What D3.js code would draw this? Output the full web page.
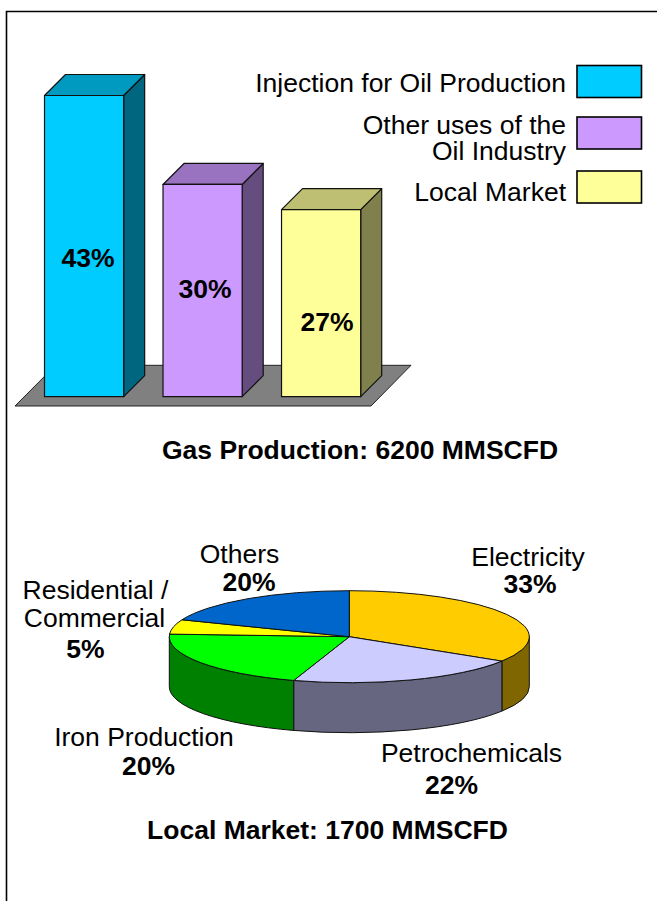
<!DOCTYPE html>
<html lang="en">
<head>
  <meta charset="UTF-8">
  <title>Gas Production and Local Market</title>
  <script src="https://d3js.org/d3.v7.min.js"></script>
  <style>
    html, body { margin: 0; padding: 0; background: #fff; }
    svg { display: block; }
    text { font-family: "Liberation Sans", Arial, sans-serif; fill: #000; }
    .lbl { font-size: 26.5px; }
    .bold { font-size: 26.5px; font-weight: bold; }
  </style>
</head>
<body>
  <svg width="657" height="901"></svg>
  <script>
    // bar chart: heights, labels as printed
    const barCategories = ["Injection for Oil Production", "Other uses of the Oil Industry", "Local Market"];
    const barHeights = [43, 30.3, 26.7];
    const barLabels = ["43%", "30%", "27%"];
    const barColors = ["#00ccff", "#cc99ff", "#ffff99"];
    const barLabelX = [88, 205, 327];
    const barLabelY = [267, 298, 331];

    // pie: slice sizes, labels as printed
    const pieCategories = ["Electricity", "Petrochemicals", "Iron Production", "Residential / Commercial", "Others"];
    const pieShares = [33.9, 21.1, 20.9, 5.1, 19.0];
    const pieColors = ["#ffcc00", "#ccccff", "#00ff00", "#ffff00", "#0066cc"];

    const svg = d3.select("svg");
    const shade = (c, k) => {
      const r = d3.rgb(c);
      return d3.rgb(r.r * k, r.g * k, r.b * k).formatHex();
    };

    // frame, only top and left
    svg.append("path")
       .attr("d", "M6.5,901V11.5H657")
       .attr("fill", "none")
       .attr("stroke", "#000")
       .attr("stroke-width", 1.6);

    const x = d3.scaleBand()
                .domain(barCategories)
                .range([44.5, 360.7])
                .paddingInner(0.332);
    const y = d3.scaleLinear()
                .domain([0, 43])
                .range([396.7, 95.5]);
    const depth = 21;

    // floor
    const floorLine = d3.line();
    svg.append("path")
       .attr("d", floorLine([[15, 406], [371, 406], [411, 365.3], [55.5, 365.3]]) + "Z")
       .attr("fill", "#808080")
       .attr("stroke", "#222")
       .attr("stroke-width", 1);

    const bars = svg.selectAll(".bar")
      .data(barCategories)
      .enter().append("g")
      .attr("class", "bar");

    const outline = g => g.attr("stroke", "#111").attr("stroke-width", 1.2).attr("stroke-linejoin", "round");

    bars.append("path")
        .attr("d", (d, i) => {
          const x1 = x(d) + x.bandwidth(), t = y(barHeights[i]), b = y(0);
          return floorLine([[x1, t], [x1 + depth, t - depth], [x1 + depth, b - depth], [x1, b]]) + "Z";
        })
        .attr("fill", (d, i) => shade(barColors[i], 0.5))
        .call(outline);
    bars.append("path")
        .attr("d", (d, i) => {
          const x0 = x(d), x1 = x0 + x.bandwidth(), t = y(barHeights[i]);
          return floorLine([[x0, t], [x0 + depth, t - depth], [x1 + depth, t - depth], [x1, t]]) + "Z";
        })
        .attr("fill", (d, i) => shade(barColors[i], 0.75))
        .call(outline);
    bars.append("rect")
        .attr("x", d => x(d))
        .attr("y", (d, i) => y(barHeights[i]))
        .attr("width", x.bandwidth())
        .attr("height", (d, i) => y(0) - y(barHeights[i]))
        .attr("fill", (d, i) => barColors[i])
        .call(outline);
    bars.append("text")
        .attr("class", "bold")
        .attr("text-anchor", "middle")
        .attr("x", (d, i) => barLabelX[i])
        .attr("y", (d, i) => barLabelY[i])
        .text((d, i) => barLabels[i]);

    // legend
    const legendBoxY = [65.5, 117, 171];
    const legendLines = [["Injection for Oil Production"], ["Other uses of the", "Oil Industry"], ["Local Market"]];
    const legendTextY = [[92], [134, 160], [201]];
    const legend = svg.selectAll(".legend")
      .data(barCategories)
      .enter().append("g")
      .attr("class", "legend");
    legend.append("rect")
          .attr("x", 577)
          .attr("y", (d, i) => legendBoxY[i])
          .attr("width", 64.5)
          .attr("height", 32)
          .attr("fill", (d, i) => barColors[i])
          .attr("stroke", "#000")
          .attr("stroke-width", 1.6);
    legend.each(function(d, i) {
      d3.select(this).selectAll("text")
        .data(legendLines[i])
        .enter().append("text")
        .attr("class", "lbl")
        .attr("text-anchor", "end")
        .attr("x", 566)
        .attr("y", (t, j) => legendTextY[i][j])
        .text(t => t);
    });

    svg.append("text")
       .attr("class", "bold")
       .attr("text-anchor", "middle")
       .attr("x", 360)
       .attr("y", 459)
       .text("Gas Production: 6200 MMSCFD");

    // 3d pie
    const cx = 349.3, cy = 636.7, rx = 180, ry = 46, drop = 50;
    const pie = d3.pie().sort(null)(pieShares);
    const px = a => cx + rx * Math.sin(a);
    const py = a => cy - ry * Math.cos(a);

    const sidePath = (a0, a1) =>
      `M${px(a0)},${py(a0)}A${rx},${ry} 0 0 1 ${px(a1)},${py(a1)}` +
      `L${px(a1)},${py(a1) + drop}A${rx},${ry} 0 0 0 ${px(a0)},${py(a0) + drop}Z`;

    // only the front half of the wall shows
    const lo = Math.PI / 2, hi = 3 * Math.PI / 2;
    svg.selectAll(".side")
       .data(pie.filter(d => d.endAngle > lo && d.startAngle < hi))
       .enter().append("path")
       .attr("class", "side")
       .attr("d", d => sidePath(Math.max(d.startAngle, lo), Math.min(d.endAngle, hi)))
       .attr("fill", d => shade(pieColors[d.index], 0.5))
       .attr("stroke", "#111")
       .attr("stroke-width", 1);

    const arc = d3.arc().innerRadius(0).outerRadius(rx);
    svg.append("g")
       .attr("transform", `translate(${cx},${cy}) scale(1,${ry / rx})`)
       .selectAll("path")
       .data(pie)
       .enter().append("path")
       .attr("d", arc)
       .attr("fill", d => pieColors[d.index])
       .attr("stroke", "#111")
       .attr("stroke-width", 1)
       .attr("vector-effect", "non-scaling-stroke");

    // pie labels
    const pieLabels = [
      ["Others", 239.5, 563, false], ["20%", 249, 591, true],
      ["Electricity", 528, 566, false], ["33%", 530, 593, true],
      ["Residential /", 95.5, 599, false], ["Commercial", 94.5, 627, false], ["5%", 85.5, 658, true],
      ["Iron Production", 144, 746, false], ["20%", 148.5, 775, true],
      ["Petrochemicals", 471.5, 762, false], ["22%", 451.5, 794, true]
    ];
    svg.selectAll(".pie-label")
       .data(pieLabels)
       .enter().append("text")
       .attr("class", d => "pie-label " + (d[3] ? "bold" : "lbl"))
       .attr("text-anchor", "middle")
       .attr("x", d => d[1])
       .attr("y", d => d[2])
       .text(d => d[0]);

    svg.append("text")
       .attr("class", "bold")
       .attr("text-anchor", "middle")
       .attr("x", 327.5)
       .attr("y", 839)
       .text("Local Market: 1700 MMSCFD");
  </script>
</body>
</html>
